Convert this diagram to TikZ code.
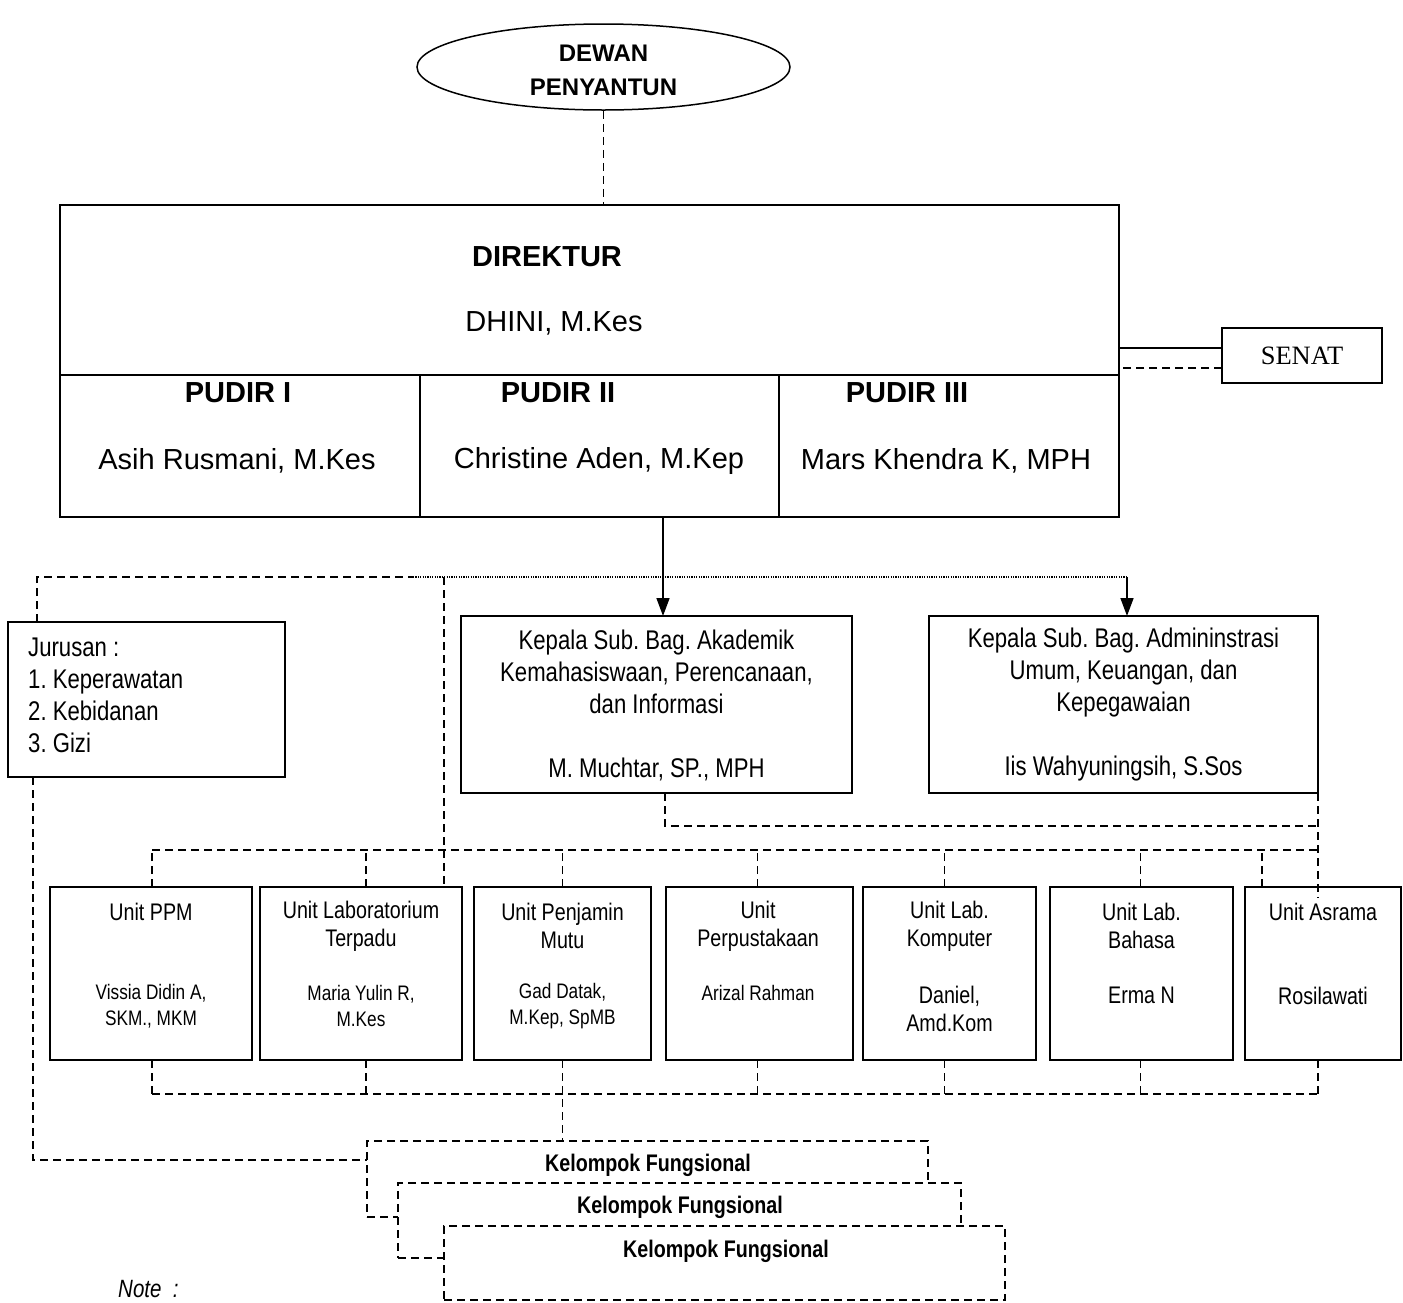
\documentclass[tikz,border=0pt]{standalone}
\usepackage{fontspec}
\setmainfont{Liberation Sans}
\newfontfamily\nar{Liberation Sans}[FakeStretch=0.82]
\newfontfamily\tms{Liberation Serif}
\usetikzlibrary{shapes.geometric,arrows.meta,calc}
\newcommand\bx[6][]{\node[box,#1,minimum width={(#5)-(#3)},minimum height={(#6)-(#4)}] (#2) at (#3,#4) {};}
\frenchspacing
\begin{document}
\begin{tikzpicture}[x=1pt,y=-1pt,
  box/.style={draw,line width=1.9pt,inner sep=0pt,outer sep=0pt,anchor=north west},
  dsh/.style={line width=1.7pt,dash pattern=on 8pt off 5pt},
  dotl/.style={line width=1.4pt,dash pattern=on 1.2pt off 1.2pt},
  arr/.style={line width=1.6pt,-{Triangle[length=18pt,width=13pt]}},
  txt/.style={inner sep=0pt,align=center},
  big/.style={font=\fontsize{29}{34}\selectfont},
  bigb/.style={font=\bfseries\fontsize{29}{34}\selectfont},
  mid/.style={font=\nar\fontsize{27}{32}\selectfont},
  unt/.style={font=\nar\fontsize{24}{28}\selectfont},
  sml/.style={font=\nar\fontsize{21}{26}\selectfont},
  kfb/.style={font=\nar\bfseries\fontsize{24}{28}\selectfont}]
\useasboundingbox[fill=white] (0,0) rectangle (1403,1302);

% Dewan Penyantun
\node[ellipse,draw,line width=1.5pt,minimum width=373pt,minimum height=86pt,inner sep=0pt] (dewan) at (603.5,67) {};
\node[txt,font=\bfseries\fontsize{24}{34}\selectfont] (tdewan) at (603.5,70) {DEWAN\\PENYANTUN};

% Direktur and Pudir boxes
\bx{dir}{60}{205}{1119}{375}
\bx[line width=1.5pt]{pud1}{60}{375}{420}{517}
\bx[line width=1.5pt]{pud2}{420}{375}{779}{517}
\bx[line width=1.5pt]{pud3}{779}{375}{1119}{517}
\node[txt,bigb] (tdir) at (547,257) {DIREKTUR};
\node[txt,big] (tdhini) at (554,323) {DHINI, M.Kes};
\node[txt,bigb] (tp1) at (238,393) {PUDIR I};
\node[txt,big] (np1) at (237,461) {Asih Rusmani, M.Kes};
\node[txt,bigb] (tp2) at (558,393) {PUDIR II};
\node[txt,big] (np2) at (599,461) {Christine Aden, M.Kep};
\node[txt,bigb] (tp3) at (907,393) {PUDIR III};
\node[txt,big] (np3) at (946,461) {Mars Khendra K, MPH};

% Senat
\bx[line width=1.3pt]{sen}{1222}{328}{1382}{383}
\node[txt,font=\tms\fontsize{26.5}{30}\selectfont] (tsen) at (1302,356) {SENAT};
\draw[line width=1.6pt] ([yshift=7.5pt]sen.west) -- ([yshift=7.5pt]sen.west -| dir.east);
\draw[dsh] ([yshift=-12.5pt]sen.west) -- ([yshift=-12.5pt]sen.west -| dir.east);

\draw[dsh] (dewan.south) -- (dewan.south |- dir.north);

% Jurusan
\bx{jur}{8}{622}{285}{777}
\node[inner sep=0pt,align=left,anchor=west,mid] (tjur) at (28,695)
  {Jurusan :\\1. Keperawatan\\2. Kebidanan\\3. Gizi};

% Kepala Sub. Bag.
\bx{aka}{461}{616}{852}{793}
\node[txt,mid] (taka) at (656.5,705)
  {Kepala Sub. Bag. Akademik\\Kemahasiswaan, Perencanaan,\\dan Informasi\\[32pt]M. Muchtar, SP., MPH};
\bx{adm}{929}{616}{1318}{793}
\node[txt,mid] (tadm) at (1123.5,705)
  {Kepala Sub. Bag. Admininstrasi\\Umum, Keuangan, dan\\Kepegawaian\\[32pt]Iis Wahyuningsih, S.Sos};

% Units
\bx{ppm}{50}{887}{252}{1060}
\bx{lab}{260}{887}{462}{1060}
\bx{pen}{474}{887}{651}{1060}
\bx{per}{666}{887}{853}{1060}
\bx{kom}{863}{887}{1036}{1060}
\bx{bah}{1050}{887}{1233}{1060}
\bx{asr}{1245}{887}{1401}{1060}
\node[txt,unt] (tppm) at (151,912) {Unit PPM};
\node[txt,sml] (nppm) at (151,1006) {Vissia Didin A,\\SKM., MKM};
\node[txt,unt] (tlab) at (361,926) {Unit Laboratorium\\Terpadu};
\node[txt,sml] (nlab) at (361,1006) {Maria Yulin R,\\M.Kes};
\node[txt,unt] (tpen) at (562.5,926) {Unit Penjamin\\Mutu};
\node[txt,sml] (npen) at (562.5,1006) {Gad Datak,\\M.Kep, SpMB};
\node[txt,unt] (tper) at (758,926) {Unit\\Perpustakaan};
\node[txt,sml] (nper) at (758,993) {Arizal Rahman};
\node[txt,unt] (tkom) at (949.5,926) {Unit Lab.\\Komputer};
\node[txt,unt] (nkom) at (949.5,1009) {Daniel,\\Amd.Kom};
\node[txt,unt] (tbah) at (1141.5,926) {Unit Lab.\\Bahasa};
\node[txt,unt] (nbah) at (1141.5,995) {Erma N};
\node[txt,unt] (tasr) at (1323,912) {Unit Asrama};
\node[txt,unt] (nasr) at (1323,996) {Rosilawati};

% Kelompok Fungsional (stacked)
\bx[dsh,fill=white]{kf1}{367}{1141}{928}{1217}
\bx[dsh,fill=white]{kf2}{398}{1183}{961}{1258}
\bx[dsh,fill=white]{kf3}{444}{1226}{1005}{1300}
\node[txt,kfb] (tkf1) at (648,1165) {Kelompok Fungsional};
\node[txt,kfb] (tkf2) at (680,1207) {Kelompok Fungsional};
\node[txt,kfb] (tkf3) at (726,1251) {Kelompok Fungsional};

\node[inner sep=0pt,anchor=base west,font=\nar\itshape\fontsize{25}{30}\selectfont] (note) at (118,1297) {Note\ \ :};

% Connectors from top
\coordinate (tl) at (37,577);
\coordinate (dS) at (413,577);
\coordinate (dE) at (1127,577);
\coordinate (lv) at (444,577);
\coordinate (av) at (663,517);
\draw[dsh] (jur.north -| tl) -- (tl) -- (dS);
\draw[dotl] (dS) -- (dE);
\draw[dsh] (lv) -- (lab.north -| lv);
\draw[arr] (dE) -- (adm.north -| dE);
\draw[arr] (pud2.south -| av) -- (aka.north -| av);

% Mid bus between Kepala boxes
\coordinate (mb) at (665,826);
\draw[dsh] (aka.south -| mb) -- (mb) -- (mb -| adm.south east);
\draw[dsh] (adm.south east) -- ([yshift=-11pt]adm.south east |- asr.north);

% Top bus to units
\coordinate (tb) at (0,850);
\foreach \n/\s in {ppm/1,lab/5,pen/0,per/-2,kom/-5,bah/-1,asr/-61}
  \draw[dsh] ([xshift=\s pt]\n.north) -- ([xshift=\s pt]\n.north |- tb);
\draw[dsh] ([xshift=1pt]ppm.north |- tb) -- (adm.south east |- tb);

% Bottom bus under units
\coordinate (bb) at (0,1094);
\foreach \n/\s in {ppm/1,lab/5,per/-2,kom/-5,bah/-1,asr/-5}
  \draw[dsh] ([xshift=\s pt]\n.south) -- ([xshift=\s pt]\n.south |- bb);
\draw[dsh] ([xshift=1pt]ppm.south |- bb) -- ([xshift=-5pt]asr.south |- bb);
\draw[dsh] (pen.south) -- (pen.south |- kf1.north);

% Jurusan to Kelompok Fungsional
\coordinate (jl) at (33,1160);
\draw[dsh] (jur.south -| jl) -- (jl) -- (jl -| kf1.west);
\end{tikzpicture}
\end{document}
